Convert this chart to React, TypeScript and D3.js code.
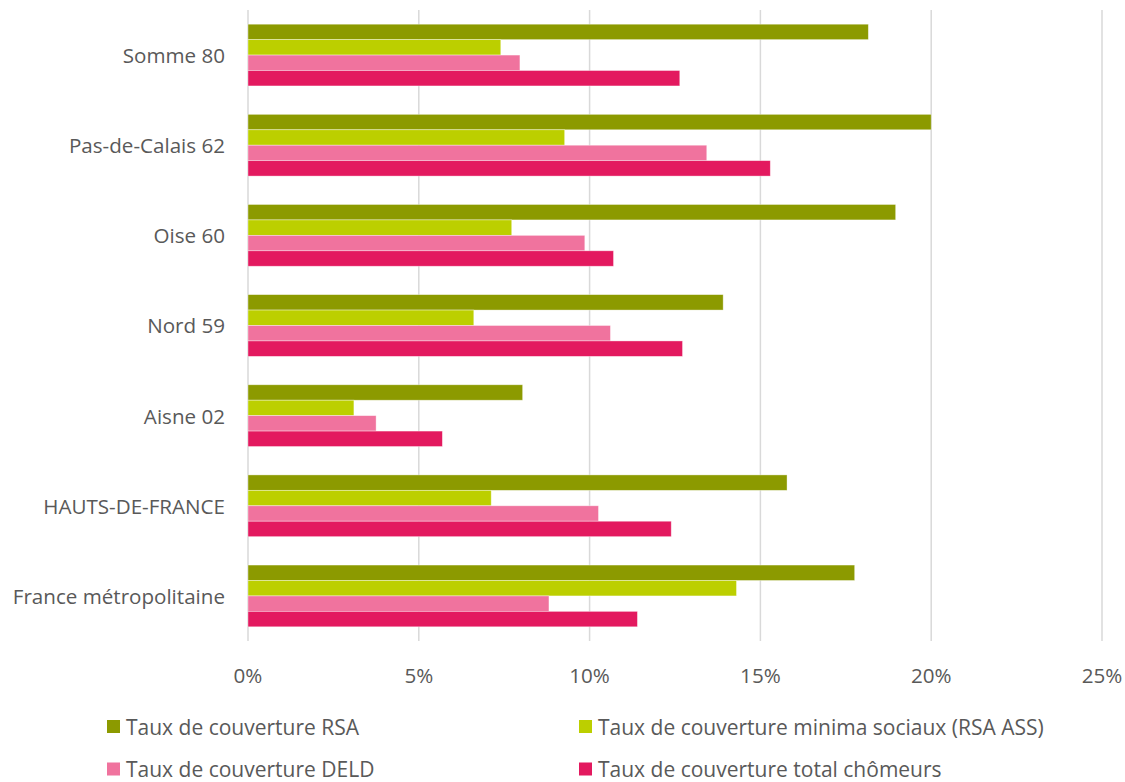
import React from "react";
import * as d3 from "d3";

const categories = [
  "Somme 80",
  "Pas-de-Calais 62",
  "Oise 60",
  "Nord 59",
  "Aisne 02",
  "HAUTS-DE-FRANCE",
  "France métropolitaine",
];
const seriesNames = [
  "Taux de couverture RSA",
  "Taux de couverture minima sociaux (RSA ASS)",
  "Taux de couverture DELD",
  "Taux de couverture total chômeurs",
];
const seriesColors = ["#8C9A00", "#BCCF00", "#F0739E", "#E3195F"];
const rsa = [18.16, 20.0, 18.96, 13.91, 8.04, 15.78, 17.76];
const minima = [7.4, 9.27, 7.72, 6.61, 3.1, 7.12, 14.3];
const deld = [7.96, 13.43, 9.86, 10.61, 3.75, 10.26, 8.81];
const total = [12.64, 15.29, 10.7, 12.72, 5.69, 12.39, 11.4];
const xTicks = [0, 5, 10, 15, 20, 25];

const seriesValues = [rsa, minima, deld, total];

const W = 1125;
const H = 782;
const left = 248;
const right = 1102;
const top = 10;
const bottom = 641;
const font = "'Open Sans', sans-serif";
const textColor = "#595959";
const fs = 20.6;
const legendFs = 21;

export default function App() {
  const x = d3.scaleLinear().domain([0, 25]).range([left, right]);
  const y = d3
    .scaleBand<string>()
    .domain(categories)
    .range([top, bottom])
    .paddingInner(0.315)
    .paddingOuter(0.1575);
  const inner = d3
    .scaleBand<number>()
    .domain([0, 1, 2, 3])
    .range([0, y.bandwidth()]);

  return (
    <svg
      width={W}
      height={H}
      style={{ position: "absolute", left: 0, top: 0, background: "#fff" }}
    >
      {xTicks.map((t) => (
        <line
          key={"g" + t}
          x1={x(t)}
          x2={x(t)}
          y1={top}
          y2={bottom}
          stroke="#D9D9D9"
          strokeWidth={1.5}
        />
      ))}
      {categories.map((c, ci) => (
        <g key={c} transform={`translate(0,${y(c)})`}>
          {seriesValues.map((vals, si) => (
            <rect
              key={si}
              x={x(0)}
              y={inner(si)}
              width={x(vals[ci]) - x(0)}
              height={inner.bandwidth()}
              fill={seriesColors[si]}
              stroke="#ffffff"
              strokeOpacity={0.5}
              strokeWidth={0.75}
            />
          ))}
          <text
            x={225}
            y={y.bandwidth() / 2}
            textAnchor="end"
            dominantBaseline="central"
            fontFamily={font}
            fontSize={fs}
            fill={textColor}
          >
            {c}
          </text>
        </g>
      ))}
      {xTicks.map((t) => (
        <text
          key={"t" + t}
          x={x(t)}
          y={675}
          textAnchor="middle"
          dominantBaseline="central"
          fontFamily={font}
          fontSize={fs}
          fill={textColor}
        >
          {t + "%"}
        </text>
      ))}
      {seriesNames.map((s, i) => {
        const lx = i % 2 === 0 ? 107 : 579;
        const ly = i < 2 ? 726.5 : 769;
        return (
          <g key={s}>
            <rect x={lx} y={ly - 6.5} width={13} height={13} fill={seriesColors[i]} />
            <text
              x={lx + 19}
              y={ly}
              dominantBaseline="central"
              fontFamily={font}
              fontSize={legendFs}
              fill={textColor}
            >
              {s}
            </text>
          </g>
        );
      })}
    </svg>
  );
}
